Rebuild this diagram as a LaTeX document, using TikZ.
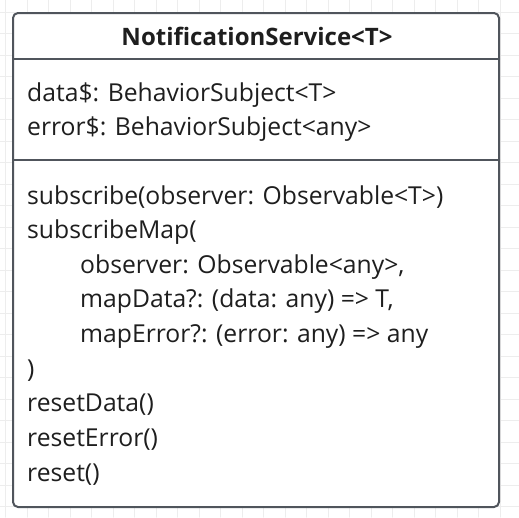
\documentclass[tikz,border=0pt]{standalone}
\usepackage{fontspec}
\setmainfont{Open Sans}
\definecolor{boxline}{HTML}{50555C}
\definecolor{gridline}{HTML}{EDEDED}
\definecolor{memtext}{HTML}{1E1E1E}
\begin{document}
\begin{tikzpicture}[x=1pt, y=-1pt, line join=round, line cap=round,
	member/.style={anchor=base west, inner sep=0pt, text=memtext, font=\fontsize{24.7pt}{29pt}\selectfont}]
	% Box size
	\def\xmin{13}\def\xmax{499}\def\ymin{13}\def\ymax{507}
	\useasboundingbox (0,0) rectangle (519,517);
	
	% Background grid
	\foreach \k in {0,...,23}\draw[gridline, line width=1pt] ({5.5+21.5*\k},0)--({5.5+21.5*\k},517);
	\foreach \k in {0,...,23}\draw[gridline, line width=1pt] (0,{12.2+21.5*\k})--(519,{12.2+21.5*\k});
	
	% Class box
	\draw[boxline, fill=white, line width=2pt, rounded corners=5pt] (\xmin,\ymin) rectangle (\xmax,\ymax);
	\coordinate (sepA-w) at (\xmin,59); \coordinate (sepA-e) at (\xmax,59);
	\coordinate (sepB-w) at (\xmin,160); \coordinate (sepB-e) at (\xmax,160);
	\draw[boxline, line width=2pt] (sepA-w)--(sepA-e);
	\draw[boxline, line width=2pt] (sepB-w)--(sepB-e);
	
	% Class name
	\node[anchor=base, inner sep=0pt, text=memtext, font=\fontsize{24pt}{29pt}\selectfont\bfseries] (name) at (257,45) {NotificationService<T>};
	
	% Attributes
	\node[member] (attrData) at (27,101.5) {data\$: BehaviorSubject<T>};
	\node[member] (attrError) at (27,135) {error\$: BehaviorSubject<any>};
	
	% Methods
	\node[member] (mSub) at (27,204) {subscribe(observer: Observable<T>)};
	\node[member] (mSubMap) at (27,238.5) {subscribeMap(};
	\node[member] (pObserver) at (80,273) {observer: Observable<any>,};
	\node[member] (pMapData) at (80,307.5) {mapData?: (data: any) => T,};
	\node[member] (pMapError) at (80,342) {mapError?: (error: any) => any};
	\node[member] (mClose) at (27,377) {)};
	\node[member] (mResetData) at (27,411.5) {resetData()};
	\node[member] (mResetError) at (27,446) {resetError()};
	\node[member] (mReset) at (27,481) {reset()};
\end{tikzpicture}
\end{document}
